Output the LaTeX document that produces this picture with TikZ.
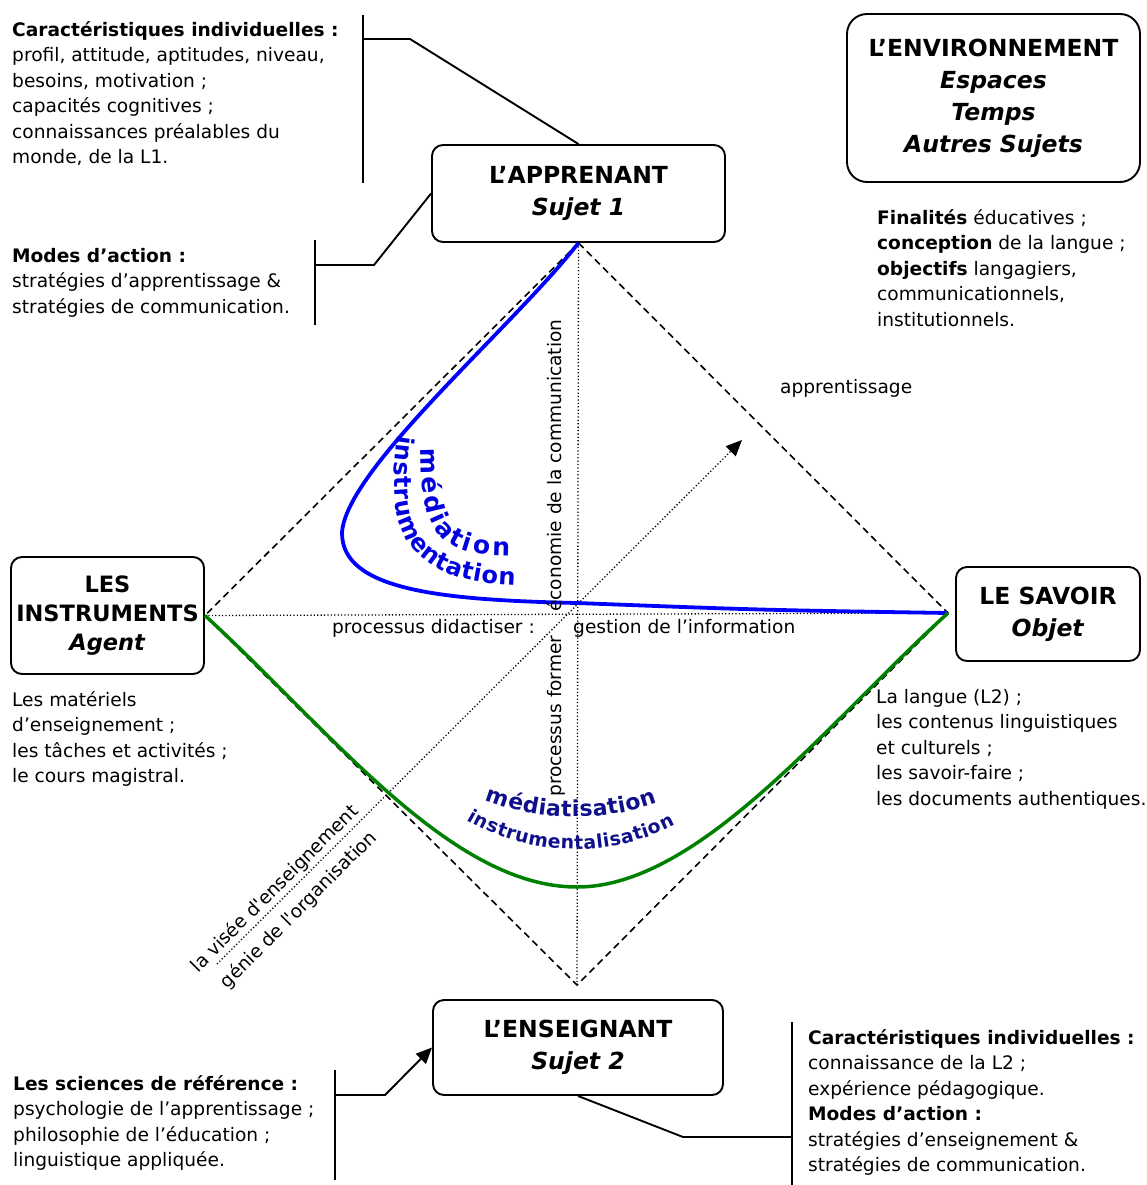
\documentclass[tikz,border=0pt]{standalone}
\usepackage{fontspec}
\setmainfont{DejaVu Sans}
\usetikzlibrary{arrows.meta,decorations.text}
\definecolor{curveblue}{RGB}{0,0,255}
\definecolor{textblue}{RGB}{0,0,225}
\definecolor{navytext}{RGB}{15,15,140}
\definecolor{curvegreen}{RGB}{0,128,0}
\tikzset{
  bx/.style={draw, line width=1.9pt, rounded corners=11pt, inner sep=0pt, align=center,
    font={\fontsize{23.5}{32}\selectfont\bfseries}},
  txt/.style={anchor=north west, inner sep=0pt, align=left, font={\fontsize{18.6}{25.5}\selectfont}},
  lbl/.style={inner sep=0pt, font={\fontsize{18.6}{25.5}\selectfont}},
  brk/.style={line width=1.9pt},
  diam/.style={line width=1.6pt, dash pattern=on 7pt off 4.5pt},
  dots/.style={line width=1.3pt, dash pattern=on 1.2pt off 2.2pt},
  bigtip/.style={-{Triangle[length=16pt,width=14pt]}},
}
\begin{document}
\begin{tikzpicture}[x=1pt,y=-1pt]
\useasboundingbox (0,0) rectangle (1147,1185);

% boxes
\node[bx, minimum width=293pt, minimum height=97pt] (appr) at (578.5,193.5) {L’APPRENANT\\\textit{Sujet 1}};
\node[bx, minimum width=293pt, minimum height=168pt, rounded corners=20pt] (env) at (993.5,98) {L’ENVIRONNEMENT\\\textit{Espaces}\\\textit{Temps}\\\textit{Autres Sujets}};
\node[bx, minimum width=193pt, minimum height=117pt, font={\fontsize{22.5}{29}\selectfont\bfseries}] (instr) at (107.5,615.5) {LES\\INSTRUMENTS\\\textit{Agent}};
\node[bx, minimum width=184pt, minimum height=94pt] (sav) at (1048,614) {LE SAVOIR\\\textit{Objet}};
\node[bx, minimum width=290pt, minimum height=95pt] (ens) at (578,1047.5) {L’ENSEIGNANT\\\textit{Sujet 2}};

% diamond corners
\coordinate (T) at (appr.south);
\coordinate (L) at (instr.east);
\coordinate (R) at (948,613);
\coordinate (B) at (577,985);

\draw[diam] (T) -- (L) -- (B) -- (R) -- cycle;
\draw[dots] (L) -- (R);
\draw[dots] (T) -- (B);
\coordinate (ds) at (217,964);
\coordinate (de) at (742,440);
\draw[dots, bigtip] (ds) -- (de);

% curves
\draw[curveblue, line width=3.8pt] (T) .. controls (512,328) and (345,470) .. (342,533)
   .. controls (342,590) and (440,600) .. (577,603) .. controls (760,610) .. (R);
\draw[curvegreen, line width=3.5pt] (L) .. controls (330,730) and (450,887) .. (577,887)
   .. controls (700,887) and (830,720) .. (R);

% curved texts
\path[decorate, decoration={text along path, text align={fit to path}, text color=textblue,
  text={|\fontsize{25}{25}\selectfont\bfseries|médiation}}]
  (421,448) .. controls (421,530) and (436,556) .. (510,556);
\path[decorate, decoration={text along path, text align={fit to path}, text color=textblue,
  text={|\fontsize{24}{24}\selectfont\bfseries|instrumentation}}]
  (398,435) .. controls (384,530) and (405,582) .. (515,585);
\path[decorate, decoration={text along path, text align={fit to path}, text color=navytext,
  text={|\fontsize{22}{22}\selectfont\bfseries|médiatisation}}]
  (485,800) .. controls (540,822) and (605,822) .. (657,803);
\path[decorate, decoration={text along path, text align={fit to path}, text color=navytext,
  text={|\fontsize{18.8}{18.8}\selectfont\bfseries|instrumentalisation}}]
  (467,820) .. controls (530,858) and (612,858) .. (675,825);

% brackets
\draw[brk] (363,15) -- (363,183);
\coordinate (b1) at (363,39);
\draw[brk] (b1) -- ++(47,0) -- (appr.north);
\draw[brk] (315,240) -- (315,325);
\coordinate (b2) at (315,265);
\draw[brk] (b2) -- ++(59,0) -- (appr.west);
\draw[brk] (335,1070) -- (335,1180);
\coordinate (b3) at (335,1095);
\draw[brk, bigtip] (b3) -- ++(50,0) -- (ens.west);
\draw[brk] (792,1022) -- (792,1185);
\coordinate (b4) at (792,1137);
\draw[brk] (b4) -- ++(-109,0) -- (ens.south);

% text blocks
\node[txt] (t1) at (12,18) {\strut\textbf{Caractéristiques individuelles :}\\profil, attitude, aptitudes, niveau,\\besoins, motivation ;\\capacités cognitives ;\\connaissances préalables du\\monde, de la L1.};
\node[txt] (t2) at (12,244) {\strut\textbf{Modes d’action :}\\stratégies d’apprentissage \&\\stratégies de communication.};
\node[txt] (t3) at (877,206) {\strut\textbf{Finalités} éducatives ;\\\textbf{conception} de la langue ;\\\textbf{objectifs} langagiers,\\communicationnels,\\institutionnels.};
\node[lbl, anchor=base west] (t4) at (780,393) {apprentissage};
\node[txt] (t5) at (12,688) {\strut Les matériels\\d’enseignement ;\\les tâches et activités ;\\le cours magistral.};
\node[txt] (t6) at (876,685) {\strut La langue (L2) ;\\les contenus linguistiques\\et culturels ;\\les savoir-faire ;\\les documents authentiques.};
\node[txt] (t7) at (13,1072) {\strut\textbf{Les sciences de référence :}\\psychologie de l’apprentissage ;\\philosophie de l’éducation ;\\linguistique appliquée.};
\node[txt] (t8) at (808,1026) {\strut\textbf{Caractéristiques individuelles :}\\connaissance de la L2 ;\\expérience pédagogique.\\\textbf{Modes d’action :}\\stratégies d’enseignement \&\\stratégies de communication.};

% center labels
\node[lbl, anchor=base east] (pd) at (535,633) {processus didactiser :};
\node[lbl, anchor=base west] (gi) at (573,633) {gestion de l’information};
\node[lbl, anchor=base west, rotate=90] (pf) at (561,797) {processus former};
\node[lbl, anchor=base west, rotate=90] (ec) at (561,612) {économie de la communication};
\node[lbl, rotate=45] (vis) at (275,889) {la visée d\textquotesingle enseignement};
\node[lbl, rotate=45] (gen) at (299,910) {génie de l\textquotesingle organisation};
\end{tikzpicture}
\end{document}
